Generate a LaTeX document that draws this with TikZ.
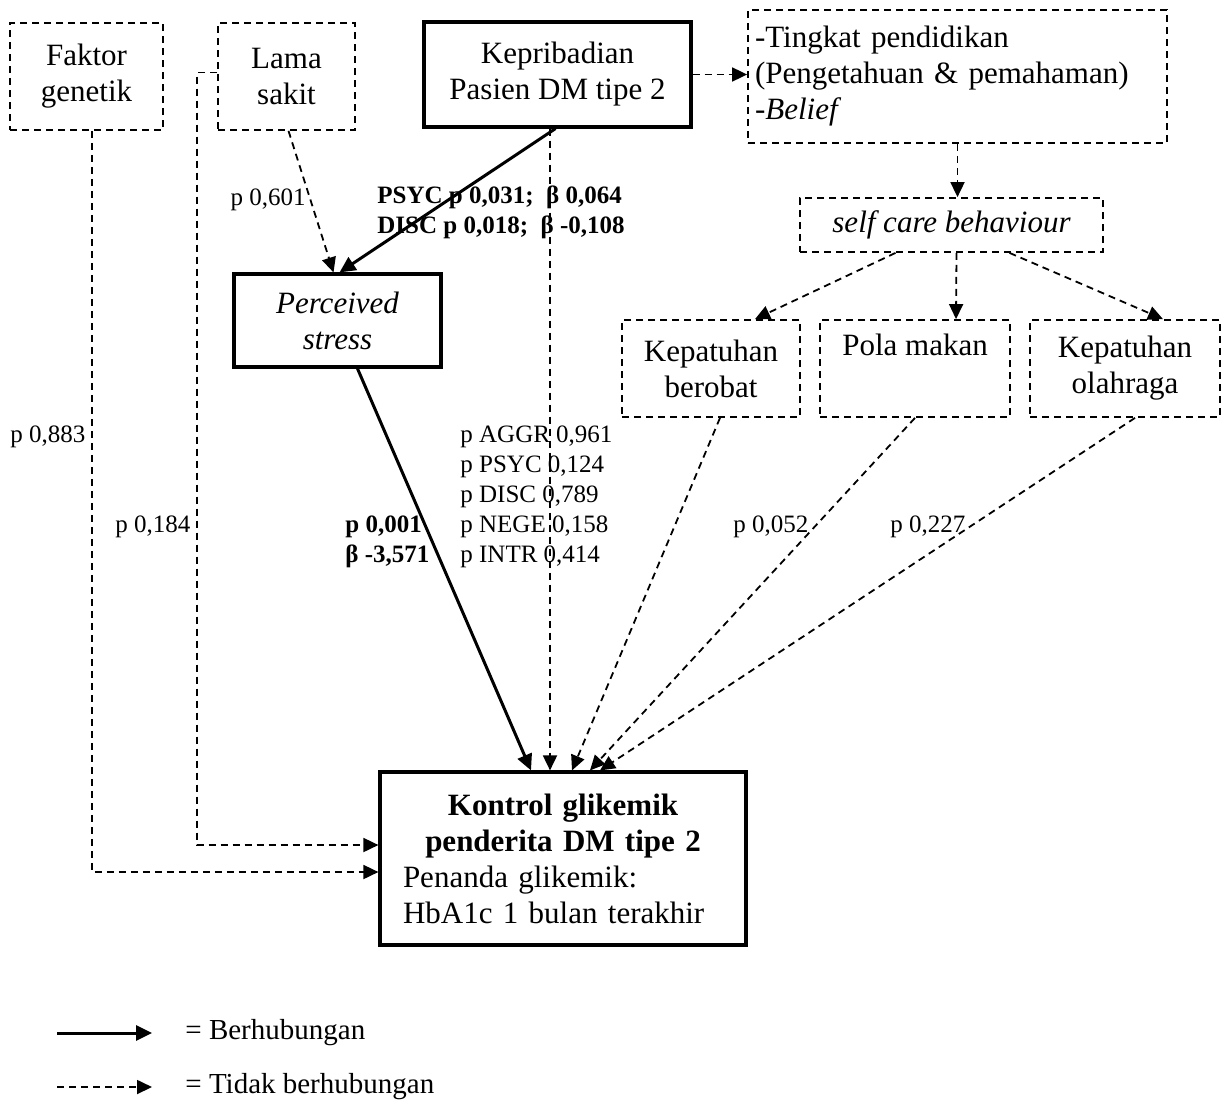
\documentclass[tikz,border=0pt]{standalone}
\usepackage{fontspec}
\setmainfont{Liberation Serif}
\usetikzlibrary{arrows.meta}
\newcommand{\bxfont}{\fontsize{15.5}{18}\selectfont}
\newcommand{\lbfont}{\fontsize{12.5}{15}\selectfont}
\newcommand{\lgfont}{\fontsize{14.5}{17}\selectfont}

\begin{document}
\begin{tikzpicture}[x=0.5pt, y=-0.5pt,
    dbox/.style={draw, line width=0.9pt, dash pattern=on 3.5pt off 2.5pt, align=center, font=\bxfont, inner sep=0pt},
    sbox/.style={draw, line width=1.6pt, align=center, font=\bxfont, inner sep=0pt},
    lbl/.style={font=\lbfont, inner sep=0pt, align=left},
    darr/.style={-{Triangle[length=7.5pt,width=7pt]}, line width=0.9pt, dash pattern=on 3.5pt off 2.5pt},
    sarr/.style={-{Triangle[length=8pt,width=7.5pt]}, line width=1.5pt}]
    \useasboundingbox (0,0) rectangle (1229,1108);
    % boxes
    \node[dbox, minimum width=76.5pt, minimum height=53.5pt] (genetik) at (86.5,76.5) {Faktor\\genetik};
    \node[dbox, minimum width=68.5pt, minimum height=53.5pt] (lama) at (286.5,76.5) {Lama\\sakit};
    \node[sbox, minimum width=133.5pt, minimum height=52.5pt] (kepribadian) at (557.5,74.5) {Kepribadian\\Pasien DM tipe 2};
    \node[dbox, minimum width=209.5pt, minimum height=66.5pt, text width=202.5pt, inner xsep=3.5pt, align=left] (tingkat) at (957.5,76.5)
        {-Tingkat pendidikan\\(Pengetahuan \& pemahaman)\\-\textit{Belief}};
    \node[dbox, minimum width=151.5pt, minimum height=27pt, font=\bxfont\itshape] (selfcare) at (951.5,225) {self care behaviour};
    \node[dbox, minimum width=89pt, minimum height=48.5pt] (berobat) at (711,368.5) {Kepatuhan\\berobat};
    \node[dbox, minimum width=95pt, minimum height=48.5pt] (pola) at (915,368.5) {Pola makan\\\strut};
    \node[dbox, minimum width=95pt, minimum height=48.5pt] (olahraga) at (1125,368.5) {Kepatuhan\\olahraga};
    \node[sbox, minimum width=103.5pt, minimum height=46.5pt, font=\bxfont\itshape] (stress) at (337.5,320.5) {Perceived\\stress};
    \node[sbox, minimum width=183pt, minimum height=86.5pt, text width=160pt, inner xsep=11.5pt, align=left] (kontrol) at (563,858.5)
        {{\centering\bfseries Kontrol glikemik\\penderita DM tipe 2\par}Penanda glikemik:\\HbA1c 1 bulan terakhir};
    % connectors
    \draw[darr] (kepribadian.east) -- (kepribadian.east -| tingkat.west);
    \draw[darr] (tingkat.south) -- (tingkat.south |- selfcare.north);
    \draw[darr] ([xshift=-28pt]selfcare.south) -- ([xshift=22pt]berobat.north);
    \draw[darr] ([xshift=2.5pt]selfcare.south) -- ([xshift=20.5pt]pola.north);
    \draw[darr] ([xshift=29pt]selfcare.south) -- ([xshift=19pt]olahraga.north);
    \draw[darr] ([xshift=1pt]lama.south) -- ([xshift=-2pt]stress.north);
    \draw[sarr] ([xshift=-1pt]kepribadian.south) -- ([xshift=1pt]stress.north);
    \draw[darr] ([xshift=-3.75pt]kepribadian.south) -- ([xshift=-6.5pt]kontrol.north);
    \draw[sarr] ([xshift=10pt]stress.south) -- ([xshift=-16pt]kontrol.north);
    \draw[darr] ([xshift=4.5pt]berobat.south) -- ([xshift=4.5pt]kontrol.north);
    \draw[darr] (pola.south) -- ([xshift=13.5pt]kontrol.north);
    \draw[darr] ([xshift=5pt]olahraga.south) -- ([xshift=18.5pt]kontrol.north);
    \draw[darr] ([xshift=2.75pt]genetik.south) |- ([yshift=-6.75pt]kontrol.west);
    \draw[darr] ([yshift=2pt]lama.west) -- ++(-10pt,0) |- ([yshift=6.75pt]kontrol.west);
    % labels
    \node[lbl, anchor=east] (p601) at (306,200) {p 0,601};
    \node[lbl, anchor=west, font=\lbfont\bfseries] (pkep) at (377,212.5) {PSYC p 0,031;\ \ β 0,064\\DISC p 0,018;\ \ β -0,108};
    \node[lbl, anchor=west] (p883) at (10,437) {p 0,883};
    \node[lbl, anchor=west] (p184) at (115,527) {p 0,184};
    \node[lbl, anchor=west] (plist) at (460,497) {p AGGR 0,961\\p PSYC 0,124\\p DISC 0,789\\p NEGE 0,158\\p INTR 0,414};
    \node[lbl, anchor=west, font=\lbfont\bfseries] (pstress) at (345,542) {p 0,001\\β -3,571};
    \node[lbl, anchor=west] (p052) at (733,527) {p 0,052};
    \node[lbl, anchor=west] (p227) at (890,527) {p 0,227};
    % legend
    \coordinate (solidA) at (57,1033);
    \coordinate (solidB) at (152,1033);
    \coordinate (dashA) at (57,1087);
    \coordinate (dashB) at (152,1087);
    \draw[sarr] (solidA) -- (solidB);
    \draw[darr] (dashA) -- (dashB);
    \node[anchor=west, font=\lgfont, inner sep=0pt] (lsolid) at (185,1033) {= Berhubungan};
    \node[anchor=west, font=\lgfont, inner sep=0pt] (ldash) at (185,1087) {= Tidak berhubungan};
\end{tikzpicture}
\end{document}
